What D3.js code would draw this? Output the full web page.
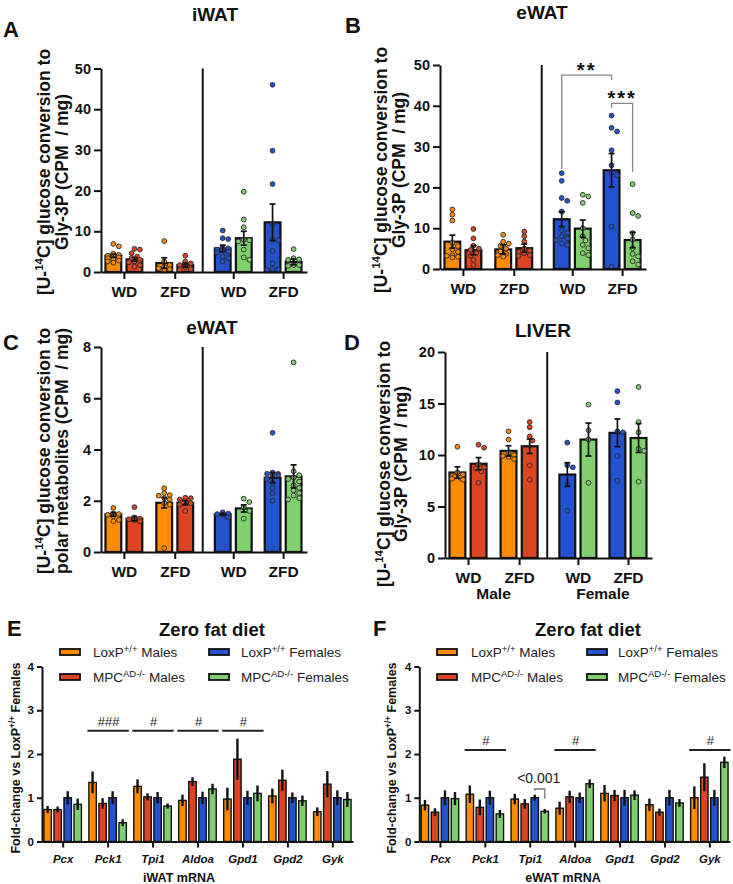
<!DOCTYPE html>
<html><head><meta charset="utf-8">
<script src="https://cdn.jsdelivr.net/npm/d3@7"></script>
<style>body{margin:0;background:#fff}svg{display:block;font-family:"Liberation Sans",Arial,sans-serif}text{white-space:pre}</style>
</head><body><svg id="c" width="733" height="884"></svg>
<script>
// ---------------- DATA ----------------
const dietLabels = ["WD", "ZFD", "WD", "ZFD"];
const seriesNames = ["LoxP", "MPC", "LoxP", "MPC"];
const seriesSup = ["+/+", "AD-/-", "+/+", "AD-/-"];
const seriesSex = ["Males", "Males", "Females", "Females"];
const seriesColors = ["#FF8C00", "#DD4422", "#2352CF", "#80D070"];
// bar order: WD-M LoxP, WD-M MPC, ZFD-M LoxP, ZFD-M MPC, WD-F LoxP, WD-F MPC, ZFD-F LoxP, ZFD-F MPC
const aMean = [4.0, 3.1, 2.2, 1.7, 5.8, 8.3, 12.2, 2.5];
const aSem = [0.4, 0.45, 1.3, 0.5, 0.8, 1.7, 4.5, 0.7];
const aPts = [
  [6.9, 6.3, 4.5, 4.2, 4.0, 3.8, 3.6, 3.4, 3.1, 2.8, 2.6, 2.3],
  [5.7, 5.5, 4.6, 3.8, 3.4, 3.0, 2.6, 2.4, 1.7, 1.3],
  [7.6, 2.6, 1.7, 1.3, 0.9, 0.7, 0.5],
  [4.0, 2.6, 2.1, 1.7, 1.2, 0.7, 0.5],
  [10.2, 8.3, 8.1, 5.9, 5.8, 5.5, 5.3, 5.0, 4.8, 3.8, 3.4, 2.6],
  [19.7, 12.9, 11.0, 8.0, 7.8, 7.5, 5.5, 3.6, 3.0],
  [46.0, 29.8, 21.6, 11.7, 8.1, 7.8, 5.2, 2.1, 0.7, 0.6, 0.5],
  [5.6, 3.4, 3.1, 3.0, 1.7, 1.7, 1.5]
];
const bMean = [6.7, 4.6, 4.8, 5.1, 12.2, 9.9, 24.2, 7.1];
const bSem = [1.6, 1.1, 1.1, 1.0, 1.8, 2.1, 4.1, 1.9];
const bPts = [
  [14.6, 13.3, 11.9, 6.4, 5.6, 4.8, 4.2, 3.4, 3.2, 3.0, 2.8],
  [9.8, 7.5, 5.7, 5.0, 4.7, 3.9, 3.2, 2.2, 1.0],
  [8.4, 6.7, 6.2, 5.7, 5.0, 4.3, 3.7, 3.4, 3.0],
  [9.2, 8.0, 6.7, 5.0, 4.5, 4.2, 3.9, 3.4, 3.2],
  [23.5, 21.6, 17.4, 16.7, 14.1, 9.5, 8.8, 8.0, 7.5, 7.1, 6.3, 5.9],
  [18.2, 17.8, 16.2, 10.0, 8.0, 7.0, 5.9, 5.1, 3.9, 3.4],
  [37.6, 34.6, 33.7, 29.1, 25.4, 23.6, 23.0, 10.4, 0.6],
  [20.8, 13.7, 13.0, 8.8, 7.2, 5.1, 3.7, 3.1, 1.9, 1.1]
];
// B significance brackets
const bSigFrom = [4, 6];
const bSigTo = [6, 7];
const bSigLevel = [47.5, 40.6];
const bSigLeftEnd = [24.5, 39.5];
const bSigRightEnd = [46.3, 23.8];
const bSigLabel = ["**", "***"];

const cMean = [1.47, 1.3, 1.92, 1.92, 1.47, 1.7, 2.9, 2.95];
const cSem = [0.07, 0.08, 0.2, 0.08, 0.03, 0.14, 0.2, 0.45];
const cPts = [
  [1.72, 1.50, 1.48, 1.45, 1.40, 1.25, 1.20],
  [1.75, 1.35, 1.30, 1.28, 1.25, 1.20],
  [2.49, 2.30, 2.22, 2.20, 2.10, 2.05, 1.90, 1.85, 0.15],
  [2.12, 2.10, 2.05, 2.00, 1.95, 1.90, 1.85, 1.60],
  [1.55, 1.50, 1.48, 1.45, 1.35],
  [2.08, 1.95, 1.75, 1.60, 1.30],
  [4.65, 3.10, 3.05, 3.05, 3.00, 3.00, 2.85, 2.70, 2.50, 2.30, 2.00],
  [7.40, 3.15, 3.00, 2.90, 2.85, 2.75, 2.60, 2.50, 2.40, 2.30, 2.20, 2.10, 2.05]
];
const dMean = [8.3, 9.15, 10.4, 10.85, 8.1, 11.5, 12.15, 11.65];
const dSem = [0.55, 0.6, 0.5, 0.7, 1.15, 1.6, 1.35, 1.4];
const dPts = [
  [10.8, 8.3, 8.1, 7.9, 7.8, 7.7, 7.6],
  [11.0, 10.7, 9.1, 8.8, 8.7, 8.4, 7.3],
  [12.3, 11.5, 10.2, 10.0, 9.9, 9.8, 9.6],
  [13.2, 12.7, 11.8, 11.4, 9.0, 7.6],
  [11.2, 9.0, 8.8, 7.2, 4.6],
  [14.9, 12.4, 11.5, 7.3],
  [16.2, 15.1, 12.3, 12.2, 9.9, 7.5],
  [16.6, 13.2, 12.2, 10.6, 10.4, 7.4]
];

const genes = ["Pcx", "Pck1", "Tpi1", "Aldoa", "Gpd1", "Gpd2", "Gyk"];
const foldTicks = [0, 1, 2, 3, 4];
// E: iWAT mRNA
const eLoxM = [0.73, 1.35, 1.26, 0.94, 0.97, 1.04, 0.68];
const eLoxMErr = [0.08, 0.25, 0.16, 0.13, 0.26, 0.17, 0.1];
const eMpcM = [0.73, 0.87, 1.02, 1.37, 1.88, 1.40, 1.31];
const eMpcMErr = [0.07, 0.12, 0.08, 0.1, 0.47, 0.24, 0.3];
const eLoxF = [1.0, 1.0, 1.0, 1.0, 1.0, 1.0, 1.0];
const eLoxFErr = [0.15, 0.15, 0.13, 0.14, 0.16, 0.12, 0.17];
const eMpcF = [0.85, 0.43, 0.81, 1.2, 1.1, 0.93, 0.96];
const eMpcFErr = [0.13, 0.08, 0.06, 0.12, 0.18, 0.12, 0.17];
const eSigGenes = ["Pck1", "Tpi1", "Aldoa", "Gpd1"];
const eSigLabels = ["###", "#", "#", "#"];
const eSigLevel = 2.53;
// F: eWAT mRNA
const fLoxM = [0.83, 1.08, 0.97, 0.76, 1.1, 0.84, 1.0];
const fLoxMErr = [0.12, 0.2, 0.12, 0.15, 0.19, 0.14, 0.26];
const fMpcM = [0.67, 0.78, 0.86, 1.02, 1.05, 0.67, 1.47];
const fMpcMErr = [0.09, 0.18, 0.11, 0.14, 0.13, 0.08, 0.32];
const fLoxF = [1.0, 1.0, 1.0, 1.0, 1.0, 1.0, 1.0];
const fLoxFErr = [0.17, 0.16, 0.07, 0.12, 0.18, 0.18, 0.18];
const fMpcF = [0.98, 0.63, 0.69, 1.32, 1.06, 0.88, 1.81];
const fMpcFErr = [0.15, 0.09, 0.05, 0.1, 0.11, 0.09, 0.13];
const fSigGenes = ["Pck1", "Aldoa", "Gyk"];
const fSigLabels = ["#", "#", "#"];
const fSigLevel = 2.09;
const fPairGene = "Tpi1";
const fPairLevel = 1.2, fPairLeftEnd = 1.16, fPairRightEnd = 0.98;
const fPairLabel = "<0.001";

// ---------------- DRAW ----------------
const svg = d3.select("#c");
svg.append("rect").attr("width", 733).attr("height", 884).attr("fill", "#fff");
const groupPos = [0, 1, 2.15, 3.13];

function swarm(vals, y, r, half) {
  const order = vals.map((v, i) => i).sort((a, b) => vals[b] - vals[a]);
  const placed = [], out = new Array(vals.length), st = r * 1.15;
  for (const i of order) {
    const py = y(vals[i]);
    const cands = [0];
    for (let k = 1; k * st <= half; k++) cands.push(k * st, -k * st);
    let best = 0, bestOv = Infinity;
    for (const c of cands) {
      let ov = 0;
      for (const p of placed) { const d = Math.hypot(p.x - c, p.y - py); if (d < 2 * r) ov += 2 * r - d; }
      if (ov === 0) { best = c; bestOv = 0; break; }
      if (ov < bestOv) { bestOv = ov; best = c; }
    }
    placed.push({x: best, y: py}); out[i] = best;
  }
  return out;
}

function addYLabel(x, cy, size, lines) {
  lines.forEach((parts, li) => {
    const t = svg.append("text")
      .attr("transform", `translate(${x[li]},${cy}) rotate(-90)`)
      .attr("text-anchor", "middle").attr("font-size", size).attr("font-weight", "bold").attr("fill", "#111");
    parts.forEach(p => {
      if (p.sup) t.append("tspan").attr("dy", -size * 0.38).attr("font-size", size * 0.66).text(p.sup);
      else t.append("tspan").attr("dy", p.after ? size * 0.38 : 0).text(p.t);
    });
  });
}

function styleAxis(g, fs) {
  g.selectAll(".domain").attr("stroke", "#111").attr("stroke-width", 2);
  g.selectAll(".tick line").attr("stroke", "#111").attr("stroke-width", 2);
  g.selectAll(".tick text").attr("fill", "#111").attr("font-size", fs).attr("font-weight", "bold")
    .attr("font-family", '"Liberation Sans",Arial,sans-serif');
}

function dotPanel(cfg, means, sems, pts) {
  const x = d3.scaleLinear().domain([-0.45, 3.6]).range([cfg.axisX, cfg.axisEnd]);
  const y = d3.scaleLinear().domain([0, cfg.yMax]).range([cfg.yBottom, cfg.yTop]);
  const unit = x(1) - x(0), barW = unit * 0.31, off = unit * 0.207;
  const g = svg.append("g");
  const bars = means.map((m, i) => ({
    m, s: sems[i], pts: pts[i],
    cx: x(groupPos[Math.floor(i / 2)]) + (i % 2 ? off : -off),
    color: seriesColors[(i < 4 ? 0 : 2) + (i % 2)]
  }));
  g.selectAll("rect.bar").data(bars).join("rect")
    .attr("x", d => d.cx - barW / 2).attr("width", barW)
    .attr("y", d => y(d.m)).attr("height", d => y(0) - y(d.m))
    .attr("fill", d => d.color).attr("stroke", "#111").attr("stroke-width", 2.2);
  const r = 2.4;
  bars.forEach(b => {
    const offs = swarm(b.pts, y, r, barW / 2 - 1.5);
    g.selectAll(null).data(b.pts).join("circle")
      .attr("cx", (d, i) => b.cx + offs[i]).attr("cy", d => y(d)).attr("r", r)
      .attr("fill", b.color).attr("stroke", "#2a2a2a").attr("stroke-width", 0.9);
  });
  bars.forEach(b => {
    const cap = 3;
    g.append("line").attr("x1", b.cx).attr("x2", b.cx).attr("y1", y(b.m - b.s)).attr("y2", y(b.m + b.s))
      .attr("stroke", "#111").attr("stroke-width", 1.7);
    [b.m - b.s, b.m + b.s].forEach(v => g.append("line").attr("x1", b.cx - cap).attr("x2", b.cx + cap)
      .attr("y1", y(v)).attr("y2", y(v)).attr("stroke", "#111").attr("stroke-width", 1.7));
  });
  // separator
  g.append("line").attr("x1", x(1.55)).attr("x2", x(1.55)).attr("y1", y(cfg.yMax)).attr("y2", y(0))
    .attr("stroke", "#111").attr("stroke-width", 2);
  const ya = g.append("g").attr("transform", `translate(${cfg.axisX},0)`)
    .call(d3.axisLeft(y).tickValues(cfg.ticks).tickSize(7).tickSizeOuter(0).tickPadding(3));
  styleAxis(ya, 14.5);
  const xa = g.append("g").attr("transform", `translate(0,${cfg.yBottom})`)
    .call(d3.axisBottom(x).tickValues(groupPos).tickFormat((d, i) => dietLabels[i]).tickSize(7).tickSizeOuter(0).tickPadding(7));
  styleAxis(xa, 15.5);
  // title & letter
  svg.append("text").attr("x", cfg.titleX).attr("y", cfg.titleY).attr("text-anchor", "middle")
    .attr("font-size", 19).attr("font-weight", "bold").attr("fill", "#111").text(cfg.title);
  svg.append("text").attr("x", cfg.letterX).attr("y", cfg.letterY)
    .attr("font-size", 22).attr("font-weight", "bold").attr("fill", "#111").text(cfg.letter);
  addYLabel(cfg.labelX, cfg.labelCY, 17.5, [
    [{t: "[U-"}, {sup: "14"}, {t: "C] glucose conversion to", after: true}],
    [{t: cfg.line2}]
  ]);
  return {x, y, bars};
}

const A = dotPanel({axisX: 101, axisEnd: 307, yTop: 68.5, yBottom: 272, yMax: 50, ticks: [0, 10, 20, 30, 40, 50],
  title: "iWAT", titleX: 215, titleY: 21, letter: "A", letterX: 3, letterY: 37, labelX: [50, 68], labelCY: 172, line2: "Gly-3P (CPM  / mg)"},
  aMean, aSem, aPts);
const B = dotPanel({axisX: 440, axisEnd: 646, yTop: 65, yBottom: 269, yMax: 50, ticks: [0, 10, 20, 30, 40, 50],
  title: "eWAT", titleX: 542, titleY: 19, letter: "B", letterX: 345, letterY: 33, labelX: [387, 405], labelCY: 170, line2: "Gly-3P (CPM  / mg)"},
  bMean, bSem, bPts);
const C = dotPanel({axisX: 101, axisEnd: 307, yTop: 347, yBottom: 552, yMax: 8, ticks: [0, 2, 4, 6, 8],
  title: "eWAT", titleX: 212, titleY: 334, letter: "C", letterX: 3, letterY: 350, labelX: [50, 68], labelCY: 451, line2: "polar metabolites (CPM  / mg)"},
  cMean, cSem, cPts);
const D = dotPanel({axisX: 445, axisEnd: 652, yTop: 352, yBottom: 558, yMax: 20, ticks: [0, 5, 10, 15, 20],
  title: "LIVER", titleX: 543, titleY: 337, letter: "D", letterX: 344, letterY: 350, labelX: [390, 407], labelCY: 464, line2: "Gly-3P (CPM  / mg)"},
  dMean, dSem, dPts);

// B brackets
bSigFrom.forEach((f, k) => {
  const x1 = B.bars[f].cx, x2 = B.bars[bSigTo[k]].cx, yy = B.y(bSigLevel[k]);
  svg.append("path").attr("d", `M${x1},${B.y(bSigLeftEnd[k])}V${yy}H${x2}V${B.y(bSigRightEnd[k])}`)
    .attr("fill", "none").attr("stroke", "#888").attr("stroke-width", 1.3);
  svg.append("text").attr("x", (x1 + x2) / 2).attr("y", yy + 2).attr("text-anchor", "middle")
    .attr("font-size", 20).attr("font-weight", "bold").attr("letter-spacing", 2).attr("fill", "#111").text(bSigLabel[k]);
});
// D sex labels
[["Male", 0, 1], ["Female", 2, 3]].forEach(([t, a, b]) => {
  svg.append("text").attr("x", (D.x(groupPos[a]) + D.x(groupPos[b])) / 2).attr("y", 599).attr("text-anchor", "middle")
    .attr("font-size", 15.5).attr("font-weight", "bold").attr("fill", "#111").text(t);
});

function genePanel(cfg, vals, errs, sigGenes, sigLabels, sigLevel) {
  const x = d3.scalePoint().domain(genes).range([cfg.axisX, cfg.axisEnd]).padding(0.46);
  const y = d3.scaleLinear().domain([0, 4]).range([cfg.yBottom, cfg.yTop]);
  const st = x.step(), bw = st * 0.165, offs = [-1.5, -0.5, 0.5, 1.5].map(k => k * st * 0.223);
  const g = svg.append("g");
  vals.forEach((arr, s) => {
    g.selectAll(null).data(arr).join("rect")
      .attr("x", (d, i) => x(genes[i]) + offs[s] - bw / 2).attr("width", bw)
      .attr("y", d => y(d)).attr("height", d => y(0) - y(d))
      .attr("fill", seriesColors[s]).attr("stroke", "#111").attr("stroke-width", 1.4);
    g.selectAll(null).data(arr).join("line")
      .attr("x1", (d, i) => x(genes[i]) + offs[s]).attr("x2", (d, i) => x(genes[i]) + offs[s])
      .attr("y1", (d, i) => y(d - errs[s][i])).attr("y2", (d, i) => y(d + errs[s][i]))
      .attr("stroke", "#111").attr("stroke-width", 2.4);
  });
  const ya = g.append("g").attr("transform", `translate(${cfg.axisX},0)`)
    .call(d3.axisLeft(y).tickValues(foldTicks).tickFormat(d3.format("d")).tickSize(5).tickSizeOuter(0).tickPadding(3));
  styleAxis(ya, 11.5);
  const xa = g.append("g").attr("transform", `translate(0,${cfg.yBottom})`)
    .call(d3.axisBottom(x).tickSize(6).tickSizeOuter(0).tickPadding(7));
  styleAxis(xa, 11.5);
  xa.selectAll(".tick text").attr("font-style", "italic");
  sigGenes.forEach((gn, k) => {
    const yy = y(sigLevel);
    g.append("line").attr("x1", x(gn) - st * 0.45).attr("x2", x(gn) + st * 0.47).attr("y1", yy).attr("y2", yy)
      .attr("stroke", "#222").attr("stroke-width", 2);
    g.append("text").attr("x", x(gn) + 1).attr("y", yy - 5).attr("text-anchor", "middle")
      .attr("font-size", 13).attr("fill", "#222").text(sigLabels[k]);
  });
  svg.append("text").attr("x", cfg.titleX).attr("y", 636).attr("text-anchor", "middle")
    .attr("font-size", 18.5).attr("font-weight", "bold").attr("fill", "#111").text("Zero fat diet");
  svg.append("text").attr("x", cfg.letterX).attr("y", 636)
    .attr("font-size", 22).attr("font-weight", "bold").attr("fill", "#111").text(cfg.letter);
  svg.append("text").attr("x", cfg.xTitleX).attr("y", 882).attr("text-anchor", "middle")
    .attr("font-size", 12.5).attr("font-weight", "bold").attr("fill", "#111").text(cfg.xTitle);
  addYLabel([cfg.yLabelX], (cfg.yTop + cfg.yBottom) / 2 + 4, 12.5, [
    [{t: "Fold-change vs LoxP"}, {sup: "+/+"}, {t: " Females", after: true}]
  ]);
  // legend
  const rows = [652, 677];
  [0, 1, 2, 3].forEach(s => {
    const col = s < 2 ? 0 : 1, row = s % 2;
    svg.append("rect").attr("x", cfg.legSwatch[col]).attr("y", rows[row] - 3).attr("width", 20).attr("height", 6)
      .attr("fill", seriesColors[s]).attr("stroke", "#111").attr("stroke-width", 1.8);
    const t = svg.append("text").attr("x", cfg.legText[col]).attr("y", rows[row] + 5)
      .attr("font-size", 13.5).attr("fill", "#222");
    t.append("tspan").text(seriesNames[s]);
    t.append("tspan").attr("dy", -5.5).attr("font-size", 9.5).text(seriesSup[s]);
    t.append("tspan").attr("dy", 5.5).text(" " + seriesSex[s]);
  });
  return {x, y, st, offs};
}

genePanel({axisX: 42, axisEnd: 353, yTop: 666.5, yBottom: 841.5, titleX: 212, letter: "E", letterX: 7,
  xTitle: "iWAT mRNA", xTitleX: 179, yLabelX: 20, legSwatch: [60, 209], legText: [93, 241]},
  [eLoxM, eMpcM, eLoxF, eMpcF], [eLoxMErr, eMpcMErr, eLoxFErr, eMpcFErr], eSigGenes, eSigLabels, eSigLevel);
const F = genePanel({axisX: 419.3, axisEnd: 730, yTop: 666.5, yBottom: 841.5, titleX: 588, letter: "F", letterX: 373,
  xTitle: "eWAT mRNA", xTitleX: 563, yLabelX: 396, legSwatch: [437, 587], legText: [471, 618]},
  [fLoxM, fMpcM, fLoxF, fMpcF], [fLoxMErr, fMpcMErr, fLoxFErr, fMpcFErr], fSigGenes, fSigLabels, fSigLevel);
// F pairwise bracket
{
  const x1 = F.x(fPairGene) + F.offs[2], x2 = F.x(fPairGene) + F.offs[3], yy = F.y(fPairLevel);
  svg.append("path").attr("d", `M${x1},${F.y(fPairLeftEnd)}V${yy}H${x2}V${F.y(fPairRightEnd)}`)
    .attr("fill", "none").attr("stroke", "#777").attr("stroke-width", 1.3);
  svg.append("text").attr("x", (x1 + x2) / 2 - 1).attr("y", yy - 6).attr("text-anchor", "middle")
    .attr("font-size", 14).attr("fill", "#222").text(fPairLabel);
}
</script></body></html>
